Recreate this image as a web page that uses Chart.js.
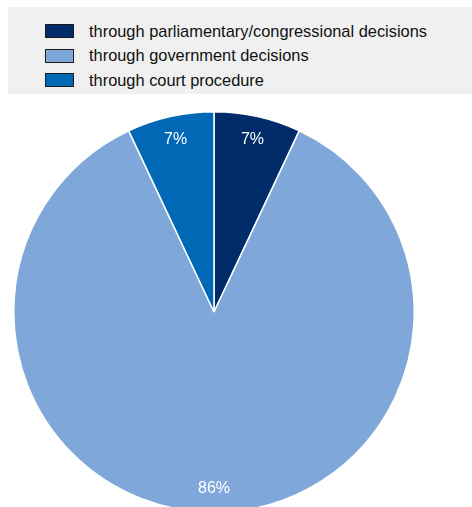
<!DOCTYPE html>
<html>
<head>
<meta charset="utf-8">
<script src="https://cdn.jsdelivr.net/npm/chart.js@4/dist/chart.umd.min.js"></script>
<style>
    html, body { margin: 0; padding: 0; background: #fff; overflow: hidden; }
    body { width: 472px; height: 507px; position: relative; font-family: "Liberation Sans", Arial, sans-serif; }
    #legend {
        position: absolute; left: 8px; top: 7px; width: 464px; height: 87px;
        background: #f0f0f0; box-sizing: border-box; padding: 12px 0 0 37px;
    }
    .item { display: flex; align-items: center; height: 24.5px; font-size: 16.4px; color: #111; }
    .swatch { width: 27px; height: 12px; border: 1px solid #1a1a1a; margin-right: 15px; }
    #wrap { position: absolute; left: 0; top: 0; width: 472px; height: 520px; }
</style>
</head>
<body>
<div id="wrap"><canvas id="pie"></canvas></div>
<div id="legend"></div>
<script>
const categories = [
    'through parliamentary/congressional decisions',
    'through government decisions',
    'through court procedure'
];
const shares = [7, 86, 7];
const colors = ['#002d6a', '#7fa7d9', '#0068b4'];

// build legend rows from the same series
const legendEl = document.getElementById('legend');
categories.forEach((name, i) => {
    const row = document.createElement('div');
    row.className = 'item';
    row.innerHTML = `<span class="swatch" style="background:${colors[i]}"></span><span>${name}</span>`;
    legendEl.appendChild(row);
});

// percentage labels inside each slice, near the rim
const sliceLabels = {
    id: 'sliceLabels',
    afterDatasetsDraw(chart) {
        const ctx = chart.ctx;
        const meta = chart.getDatasetMeta(0);
        ctx.save();
        ctx.fillStyle = '#ffffff';
        ctx.font = '16px "Liberation Sans", Arial, sans-serif';
        ctx.textAlign = 'center';
        ctx.textBaseline = 'middle';
        meta.data.forEach((arc, i) => {
            const p = arc.getProps(['x', 'y', 'startAngle', 'endAngle', 'outerRadius'], true);
            const mid = (p.startAngle + p.endAngle) / 2;
            const r = p.outerRadius * 0.88;
            ctx.fillText(shares[i] + '%', p.x + Math.cos(mid) * r, p.y + Math.sin(mid) * r);
        });
        ctx.restore();
    }
};

new Chart(document.getElementById('pie'), {
    type: 'pie',
    data: {
        labels: categories,
        datasets: [{
            data: shares,
            backgroundColor: colors,
            borderColor: '#ffffff',
            borderWidth: 1.5
        }]
    },
    options: {
        responsive: true,
        maintainAspectRatio: false,
        animation: false,
        events: [],
        layout: { padding: { left: 13, right: 57, top: 111, bottom: 7 } },
        plugins: {
            legend: { display: false },
            tooltip: { enabled: false }
        }
    },
    plugins: [sliceLabels]
});
</script>
</body>
</html>
